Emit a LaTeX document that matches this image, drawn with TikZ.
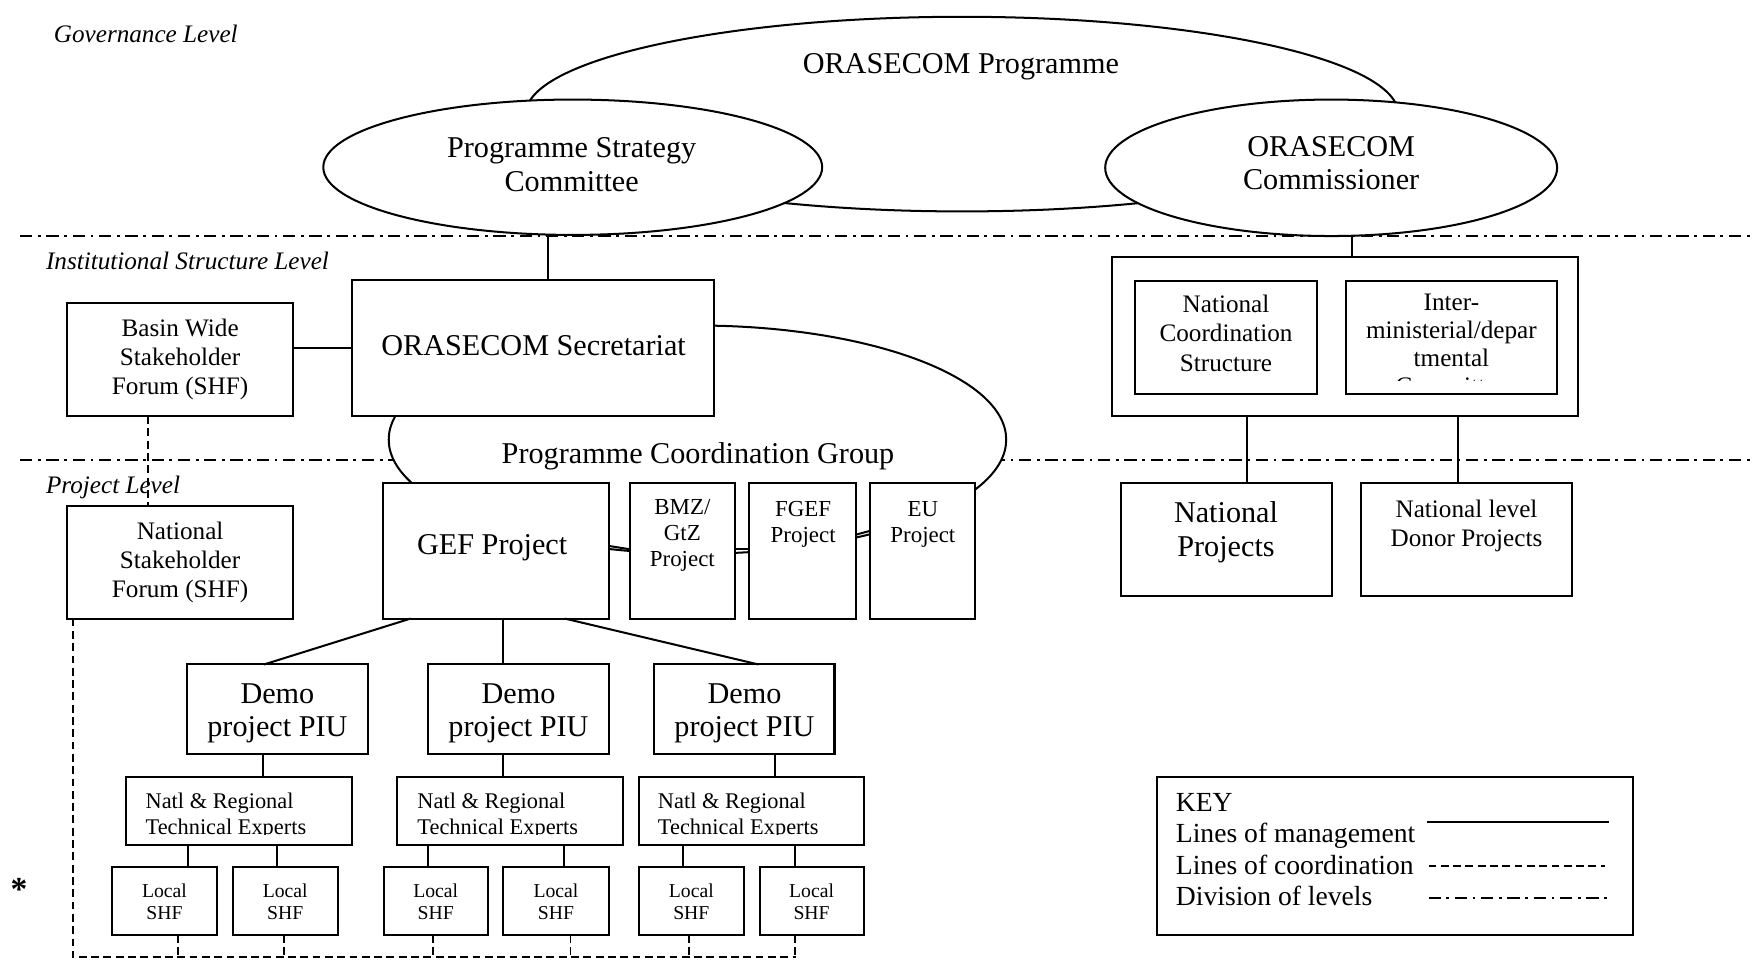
\documentclass[tikz,border=0pt]{standalone}
\usepackage{fontspec}
\setmainfont{Liberation Serif}
\usetikzlibrary{shapes.geometric,fit}
\tikzset{
 lvl/.style={line width=1.6pt, dash pattern=on 11pt off 5pt on 2.5pt off 5pt},
 coord/.style={line width=1.6pt, dash pattern=on 7pt off 4pt},
 mgmt/.style={line width=1.8pt},
 boxst/.style={draw, fill=white, line width=1.8pt, inner sep=0pt, outer sep=0pt},
 ell/.style={ellipse, draw, fill=white, line width=1.8pt, inner sep=0pt, outer sep=0pt},
 tL/.style={font=\fontsize{27}{30}\selectfont, align=center, inner sep=0pt},
 tM/.style={font=\fontsize{22.5}{26}\selectfont, align=center, inner sep=0pt},
 tS/.style={font=\fontsize{20.5}{23}\selectfont, align=center, inner sep=0pt},
 tN/.style={font=\fontsize{20}{23}\selectfont, align=left, inner sep=0pt, anchor=north west},
 tX/.style={font=\fontsize{17.6}{20}\selectfont, align=center, inner sep=0pt},
 tK/.style={font=\fontsize{24.7}{28}\selectfont, align=left, inner sep=0pt, anchor=north west},
 tI/.style={font=\fontsize{22.5}{26}\selectfont\itshape, inner sep=0pt, anchor=west},
}
\begin{document}
\begin{tikzpicture}[x=1pt,y=-1pt]
\fill[white] (0,0) rectangle (1568,862);
\useasboundingbox (0,0) rectangle (1568,862);

% level labels and division lines
\node[tI] (gov) at (48,30) {Governance Level};
\node[tI] (inst) at (41,233) {Institutional Structure Level};
\node[tI] (projl) at (41,436) {Project Level};
\draw[lvl] (18,211) -- (1568,211);
\draw[lvl] (18,411) -- (1568,411);

% governance ellipses
\node[ell, minimum width=780pt, minimum height=174pt] (prog) at (860,102) {};
\node[tL] (prog-t) at (859,60) {ORASECOM Programme};
\node[ell, minimum width=446pt, minimum height=121pt] (psc) at (512,149.5) {};
\node[tL] (psc-t) at (511,147) {Programme Strategy\\Committee};
\node[ell, minimum width=404pt, minimum height=122pt] (comm) at (1190,150) {};
\node[tL] (comm-t) at (1190,146) {ORASECOM\\Commissioner};

% programme coordination group
\node[ell, minimum width=552pt, minimum height=204pt] (pcg) at (623.5,393) {};
\node[tL] (pcg-t) at (624,408) {Programme Coordination Group};

% institutional boxes
\node[boxst, fit={(315,250) (638,372)}] (sec) {};
\node[tL] (sec-t) at (477,309) {ORASECOM Secretariat};
\node[boxst, fit={(60,271) (262,372)}] (bshf) {};
\node[tM] (bshf-t) at (161,321) {Basin Wide\\Stakeholder\\Forum (SHF)};

% project boxes
\node[boxst, fit={(60,452) (262,553)}] (nshf) {};
\node[tM] (nshf-t) at (161,502.5) {National\\Stakeholder\\Forum (SHF)};
\node[boxst, fit={(342,432) (544,553)}] (gef) {};
\node[tL] (gef-t) at (440,490) {GEF Project};
\node[boxst, fit={(563,432) (657,553)}] (bmz) {};
\node[tS] (bmz-t) at (610,478.5) {BMZ/\\GtZ\\Project};
\node[boxst, fit={(670,432) (765,553)}] (fgef) {};
\node[tS] (fgef-t) at (718,469) {FGEF\\Project};
\node[boxst, fit={(778,432) (872,553)}] (eu) {};
\node[tS] (eu-t) at (825,469) {EU\\Project};

% demo projects
\node[boxst, fit={(167,594) (329,674)}] (demo1) {};
\node[tL] (demo1-t) at (248,637.5) {Demo\\project PIU};
\node[boxst, fit={(383,594) (544,674)}] (demo2) {};
\node[tL] (demo2-t) at (463.5,637.5) {Demo\\project PIU};
\node[boxst, fit={(585,594) (746,674)}] (demo3) {};
\node[tL] (demo3-t) at (665.5,637.5) {Demo\\project PIU};

% technical experts
\node[boxst, fit={(113,695) (315,755)}] (nrte1) {};
\node[boxst, fit={(355,695) (557,755)}] (nrte2) {};
\node[boxst, fit={(571,695) (772,755)}] (nrte3) {};
\begin{scope}
\clip (113,695) rectangle (315,746);
\node[tN] (nrte1-t) at (130,709) {Natl \& Regional\\Technical Experts};
\end{scope}
\begin{scope}
\clip (355,695) rectangle (557,746);
\node[tN] (nrte2-t) at (373,709) {Natl \& Regional\\Technical Experts};
\end{scope}
\begin{scope}
\clip (571,695) rectangle (772,746);
\node[tN] (nrte3-t) at (588,709) {Natl \& Regional\\Technical Experts};
\end{scope}

% local SHFs
\foreach \i/\a/\b in {1/100/194, 2/208/302, 3/343/436, 4/450/544, 5/571/665, 6/679/772}{
  \node[boxst, fit={(\a,775) (\b,836)}] (loc\i) {};
  \node[tX] (loc\i-t) at ({(\a+\b)/2},806) {Local\\SHF};
}

% right side
\node[boxst, fit={(994,230) (1411,372)}] (outer) {};
\node[boxst, fit={(1015,251) (1177,352)}] (ncs) {};
\node[tM] (ncs-t) at (1096,298) {National\\Coordination\\Structure};
\node[boxst, fit={(1203,251) (1392,352)}] (imd) {};
\begin{scope}
\clip (1203,251) rectangle (1392,340.5);
\node[font=\fontsize{22.5}{25}\selectfont, align=center, inner sep=0pt, anchor=north] (imd-t) at (1297.5,263) {Inter-\\ministerial/depar\\tmental\\Committee};
\end{scope}
\node[boxst, fit={(1002,432) (1191,533)}] (natp) {};
\node[tL] (natp-t) at (1096,476) {National\\Projects};
\node[boxst, fit={(1217,432) (1405,533)}] (donor) {};
\node[tM] (donor-t) at (1311,470.5) {National level\\Donor Projects};

% connectors: management
\draw[mgmt] ([xshift=13.5pt]sec.north) -- ([xshift=13.5pt]sec.north |- psc.south);
\draw[mgmt] ([xshift=6.5pt]outer.north) -- ([xshift=6.5pt]outer.north |- comm.south);
\draw[mgmt] ([yshift=10.5pt]bshf.east) -- ([yshift=10.5pt]bshf.east -| sec.west);
\draw[mgmt] ([yshift=4.5pt]gef.east) -- ([yshift=1.5pt]bmz.west);
\draw[mgmt] ([yshift=1.5pt]bmz.east) -- ([yshift=1.5pt]fgef.west);
\draw[mgmt] ([yshift=14.5pt]fgef.east) -- ([yshift=18pt]eu.west);
\draw[mgmt] ([xshift=-76pt]gef.south) -- ([xshift=-12pt]demo1.north);
\draw[mgmt] ([xshift=7pt]gef.south) -- ([xshift=-13.5pt]demo2.north);
\draw[mgmt] ([xshift=62pt]gef.south) -- ([xshift=12.5pt]demo3.north);
\draw[mgmt] ([xshift=-13pt]demo1.south) -- ([xshift=-13pt]demo1.south |- nrte1.north);
\draw[mgmt] ([xshift=-13.5pt]demo2.south) -- ([xshift=-13.5pt]demo2.south |- nrte2.north);
\draw[mgmt] ([xshift=27.5pt]demo3.south) -- ([xshift=27.5pt]demo3.south |- nrte3.north);
\draw[mgmt] ([xshift=21pt]loc1.north) -- ([xshift=21pt]loc1.north |- nrte1.south);
\draw[mgmt] ([xshift=-7pt]loc2.north) -- ([xshift=-7pt]loc2.north |- nrte1.south);
\draw[mgmt] ([xshift=-6.5pt]loc3.north) -- ([xshift=-6.5pt]loc3.north |- nrte2.south);
\draw[mgmt] ([xshift=7pt]loc4.north) -- ([xshift=7pt]loc4.north |- nrte2.south);
\draw[mgmt] ([xshift=-7pt]loc5.north) -- ([xshift=-7pt]loc5.north |- nrte3.south);
\draw[mgmt] ([xshift=-14.5pt]loc6.north) -- ([xshift=-14.5pt]loc6.north |- nrte3.south);
\draw[mgmt] ([xshift=18.5pt]natp.north) -- ([xshift=18.5pt]natp.north |- outer.south);
\draw[mgmt] ([xshift=-8pt]donor.north) -- ([xshift=-8pt]donor.north |- outer.south);

% connectors: coordination
\draw[coord] ([xshift=-29pt]bshf.south) -- ([xshift=-29pt]nshf.north);
\coordinate (bus) at (711.5,855.5);
\draw[coord] ([xshift=-96pt]nshf.south) |- (bus);
\draw[coord] ([xshift=12pt]loc1.south) -- ([xshift=12pt]loc1.south |- bus);
\draw[coord] ([xshift=-1pt]loc2.south) -- ([xshift=-1pt]loc2.south |- bus);
\draw[coord] ([xshift=-2.5pt]loc3.south) -- ([xshift=-2.5pt]loc3.south |- bus);
\draw[coord] ([xshift=13pt]loc4.south) -- ([xshift=13pt]loc4.south |- bus);
\draw[coord] ([xshift=-2pt]loc5.south) -- ([xshift=-2pt]loc5.south |- bus);
\draw[coord] ([xshift=-14.5pt]loc6.south) -- ([xshift=-14.5pt]loc6.south |- bus);

% asterisk
\node[font=\fontsize{30}{32}\selectfont\bfseries, inner sep=0pt] (star) at (17,795) {*};

% key
\node[boxst, fit={(1034,695) (1460,836)}] (key) {};
\node[tK] (key-t) at (1051,709) {KEY\\Lines of management\\Lines of coordination\\Division of levels};
\draw[mgmt] (1276,735) -- (1438,735);
\draw[coord] (1277,774) -- (1435,774);
\draw[lvl] (1277,803) -- (1438,803);
\end{tikzpicture}
\end{document}
